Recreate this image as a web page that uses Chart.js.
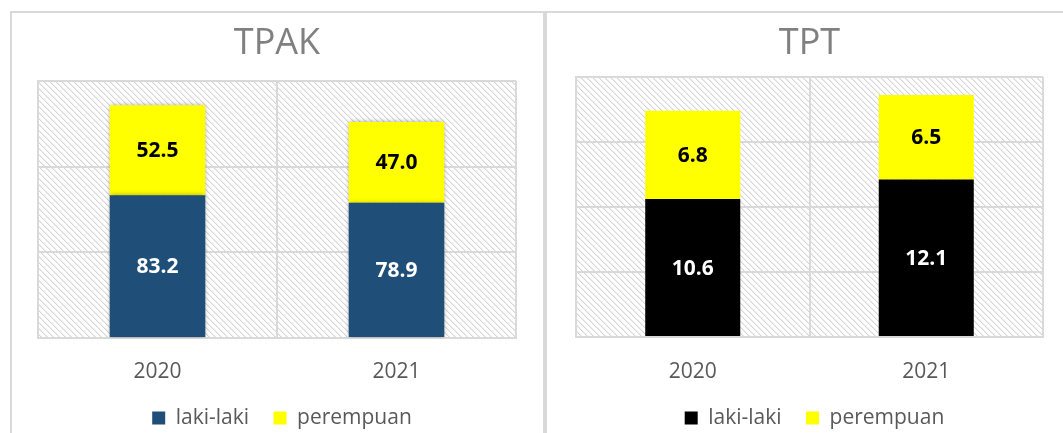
<!DOCTYPE html>
<html>
<head>
<meta charset="utf-8">
<script src="https://cdn.jsdelivr.net/npm/chart.js@4.4.1/dist/chart.umd.min.js"></script>
<style>
    body { margin: 0; width: 1063px; height: 433px; overflow: hidden; background: #fff; }
    .box { position: absolute; border: 2px solid #d9d9d9; box-sizing: border-box; }
    .wrap { position: absolute; }
</style>
</head>
<body>
<div class="box" style="left:10px; top:11px; width:535px; height:440px;"></div>
<div class="box" style="left:545px; top:11px; width:540px; height:440px;"></div>
<div class="wrap" style="left:10px; top:12px; width:535px; height:430px;"><canvas id="tpakChart"></canvas></div>
<div class="wrap" style="left:545px; top:12px; width:530px; height:430px;"><canvas id="tptChart"></canvas></div>

<script>
const years = ['2020', '2021'];
const seriesNames = ['laki-laki', 'perempuan'];

// TPAK
const tpakLaki = [83.2, 78.9];
const tpakPerempuan = [52.5, 47.0];
const tpakTicks = [0, 50, 100, 150];

// TPT
const tptLaki = [10.6, 12.1];
const tptPerempuan = [6.8, 6.5];
const tptTicks = [0, 5, 10, 15, 20];

const FONT = 'Open Sans';

// hatched background of the plot area
const hatchPlugin = {
    id: 'hatch',
    beforeDraw(chart) {
        const tile = document.createElement('canvas');
        tile.width = 6;
        tile.height = 6;
        const g = tile.getContext('2d');
        g.fillStyle = '#ffffff';
        g.fillRect(0, 0, 6, 6);
        for (let i = 0; i < 6; i++) {
            g.fillStyle = '#d6d6d6';
            g.fillRect(i, i, 1, 1);
            g.fillStyle = '#ededed';
            g.fillRect((i + 1) % 6, i, 1, 1);
        }
        const {ctx, chartArea} = chart;
        ctx.save();
        ctx.fillStyle = ctx.createPattern(tile, 'repeat');
        ctx.fillRect(chartArea.left, chartArea.top, chartArea.width, chartArea.height);
        ctx.restore();
    },
    // legend sits a little right of centre in the original
    afterLayout(chart) {
        chart.legend.left += 5;
        chart.legend.right += 5;
    }
};

// bar shadow + value labels in the middle of each segment
const barLabelPlugin = {
    id: 'barLabels',
    beforeDatasetsDraw(chart, args, opts) {
        chart.ctx.save();
        if (opts.shadow) {
            chart.ctx.shadowColor = 'rgba(0,0,0,0.35)';
            chart.ctx.shadowBlur = 5;
        }
    },
    afterDatasetsDraw(chart) {
        const ctx = chart.ctx;
        ctx.restore();
        ctx.save();
        ctx.font = 'bold 21px "' + FONT + '"';
        ctx.textAlign = 'center';
        ctx.textBaseline = 'middle';
        chart.data.datasets.forEach((ds, i) => {
            chart.getDatasetMeta(i).data.forEach((bar, j) => {
                ctx.fillStyle = ds.labelColor;
                ctx.fillText(ds.data[j].toFixed(1), bar.x, (bar.y + bar.base) / 2 + 1);
            });
        });
        ctx.restore();
    }
};

function createChart(id, cfg) {
    const ctx = document.getElementById(id).getContext('2d');
    const ticks = cfg.ticks;

    return new Chart(ctx, {
        type: 'bar',
        data: {
            labels: years,
            datasets: [{
                label: seriesNames[0],
                data: cfg.laki,
                backgroundColor: cfg.lakiColor,
                labelColor: '#ffffff'
            }, {
                label: seriesNames[1],
                data: cfg.perempuan,
                backgroundColor: '#ffff00',
                labelColor: '#000000'
            }]
        },
        plugins: [hatchPlugin, barLabelPlugin],
        options: {
            responsive: true,
            maintainAspectRatio: false,
            animation: false,
            datasets: {
                bar: {
                    categoryPercentage: 1,
                    barPercentage: cfg.barPct
                }
            },
            layout: {
                padding: {left: cfg.padLeft, right: cfg.padRight, top: 0, bottom: 3.5}
            },
            plugins: {
                tooltip: {enabled: false},
                barLabels: {shadow: cfg.shadow},
                title: {
                    display: true,
                    text: cfg.title,
                    color: '#808080',
                    font: {family: FONT, size: 36, weight: 'normal'},
                    padding: {top: 10, bottom: cfg.titleBottom}
                },
                legend: {
                    position: 'bottom',
                    labels: {
                        boxWidth: 13,
                        boxHeight: 13,
                        color: '#595959',
                        font: {family: FONT, size: 21},
                        padding: 24.5
                    }
                }
            },
            scales: {
                x: {
                    stacked: true,
                    grid: {color: '#d9d9d9', lineWidth: 2, drawTicks: false, offset: true},
                    border: {color: '#d9d9d9', width: 2},
                    ticks: {
                        color: '#595959',
                        font: {family: FONT, size: 21},
                        padding: cfg.tickPad
                    },
                    afterFit(scale) {
                        scale.height = cfg.axisHeight;
                    }
                },
                y: {
                    stacked: true,
                    min: ticks[0],
                    max: ticks[ticks.length - 1],
                    ticks: {display: false, stepSize: ticks[1] - ticks[0]},
                    grid: {color: '#d9d9d9', lineWidth: 2, drawTicks: false},
                    border: {color: '#d9d9d9', width: 2}
                }
            }
        }
    });
}

createChart('tpakChart', {
    title: 'TPAK',
    laki: tpakLaki,
    perempuan: tpakPerempuan,
    ticks: tpakTicks,
    lakiColor: '#1f4e79',
    barPct: 0.4,
    padLeft: 28,
    padRight: 29,
    titleBottom: 15.6,
    tickPad: 21,
    axisHeight: 45,
    shadow: true
});

createChart('tptChart', {
    title: 'TPT',
    laki: tptLaki,
    perempuan: tptPerempuan,
    ticks: tptTicks,
    lakiColor: '#000000',
    barPct: 0.407,
    padLeft: 31,
    padRight: 32,
    titleBottom: 11.6,
    tickPad: 22,
    axisHeight: 46,
    shadow: false
});
</script>
</body>
</html>
